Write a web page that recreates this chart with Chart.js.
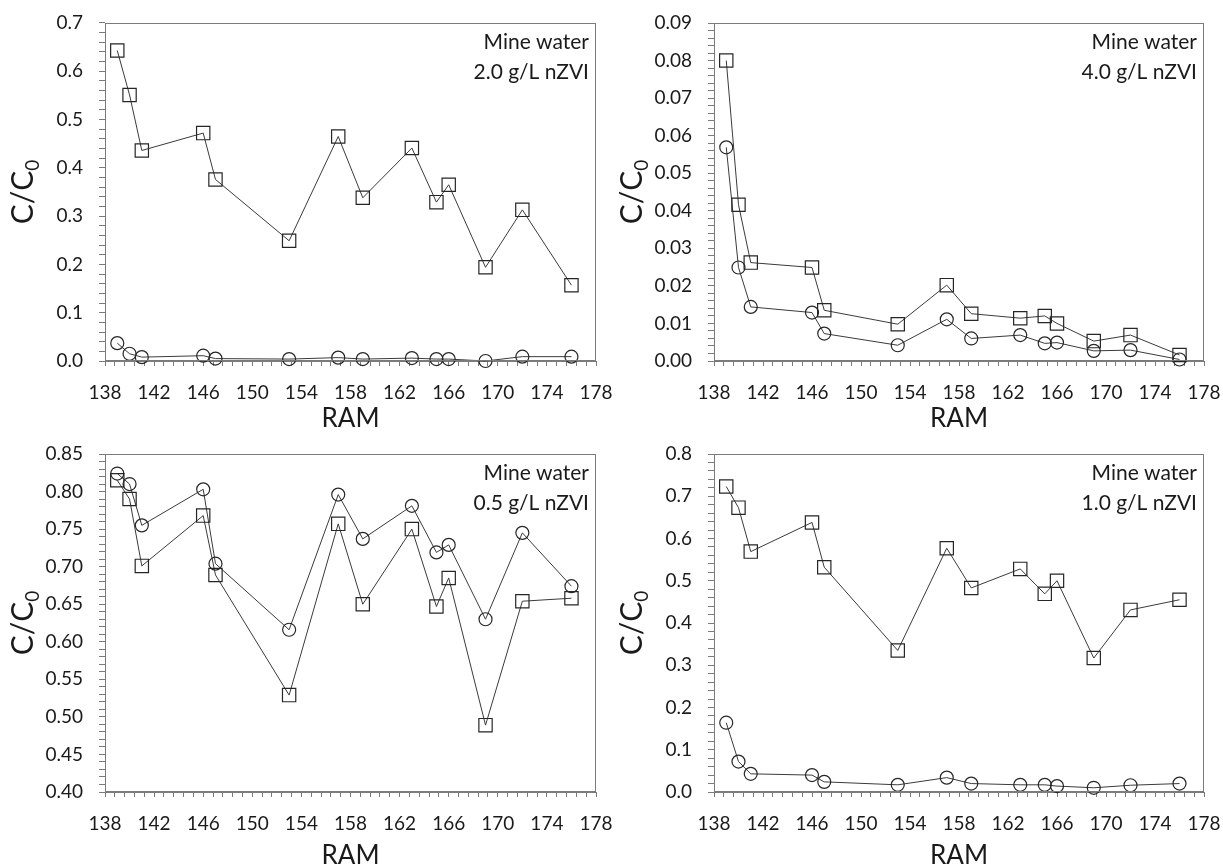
<!DOCTYPE html>
<html><head><meta charset="utf-8">
<script src="https://cdn.jsdelivr.net/npm/chart.js@4.4.1/dist/chart.umd.min.js"></script>
<style>
html,body{margin:0;padding:0;background:#fff;}
#wrap{position:relative;width:1223px;height:868px;overflow:hidden;background:#fff;}
canvas{position:absolute;left:0;top:0;}
</style></head><body>
<div id="wrap">
<canvas id="c1" width="1223" height="868"></canvas>
<canvas id="c2" width="1223" height="868"></canvas>
<canvas id="c3" width="1223" height="868"></canvas>
<canvas id="c4" width="1223" height="868"></canvas>
</div>
<script>
// ---- data ----
const ram = [139, 140, 141, 146, 147, 153, 157, 159, 163, 165, 166, 169, 172, 176];

// 2.0 g/L nZVI
const sq20 = [0.643, 0.551, 0.436, 0.472, 0.376, 0.249, 0.465, 0.338, 0.441, 0.329, 0.365, 0.194, 0.313, 0.157];
const ci20 = [0.037, 0.015, 0.008, 0.011, 0.005, 0.004, 0.007, 0.004, 0.006, 0.004, 0.004, 0.000, 0.009, 0.009];
// 4.0 g/L nZVI
const sq40 = [0.0800, 0.0416, 0.0262, 0.0249, 0.0135, 0.0098, 0.0202, 0.0126, 0.0114, 0.0120, 0.0100, 0.0053, 0.0069, 0.0016];
const ci40 = [0.0569, 0.0249, 0.0144, 0.0129, 0.0073, 0.0042, 0.0111, 0.0060, 0.0069, 0.0047, 0.0049, 0.0027, 0.0029, 0.0004];
// 0.5 g/L nZVI
const sq05 = [0.815, 0.790, 0.701, 0.768, 0.689, 0.529, 0.757, 0.650, 0.750, 0.647, 0.685, 0.489, 0.654, 0.658];
const ci05 = [0.824, 0.810, 0.755, 0.803, 0.704, 0.616, 0.796, 0.737, 0.781, 0.719, 0.729, 0.630, 0.745, 0.674];
// 1.0 g/L nZVI
const sq10 = [0.723, 0.673, 0.569, 0.638, 0.532, 0.335, 0.577, 0.483, 0.528, 0.469, 0.500, 0.317, 0.431, 0.455];
const ci10 = [0.164, 0.072, 0.043, 0.040, 0.024, 0.017, 0.034, 0.020, 0.017, 0.017, 0.014, 0.010, 0.016, 0.020];

const xTickLabels = ['138', '142', '146', '150', '154', '158', '162', '166', '170', '174', '178'];
const yLabels20 = ['0.0', '0.1', '0.2', '0.3', '0.4', '0.5', '0.6', '0.7'];
const yLabels40 = ['0.00', '0.01', '0.02', '0.03', '0.04', '0.05', '0.06', '0.07', '0.08', '0.09'];
const yLabels05 = ['0.40', '0.45', '0.50', '0.55', '0.60', '0.65', '0.70', '0.75', '0.80', '0.85'];
const yLabels10 = ['0.0', '0.1', '0.2', '0.3', '0.4', '0.5', '0.6', '0.7', '0.8'];

const noteTitle = 'Mine water';
const xTitle = 'RAM';

// ---- styling ----
const FONT = 'Lato, "Open Sans", sans-serif';
const AX = '#7b7b7b';
const INK = '#1a1a1a';
const LINE = '#3a3a3a';

function makePanel(id, sq, ci, yLabels, note, box) {
  const W = 1223, H = 868;
  const yMin = parseFloat(yLabels[0]);
  const yMax = parseFloat(yLabels[yLabels.length - 1]);
  const yMinor = (parseFloat(yLabels[1]) - yMin) / 5;
  const nY = (yLabels.length - 1) * 5;
  const xMin = parseFloat(xTickLabels[0]);
  const xMax = parseFloat(xTickLabels[xTickLabels.length - 1]);
  const xMinor = (parseFloat(xTickLabels[1]) - xMin) / 5;
  const nX = (xTickLabels.length - 1) * 5;

  const deco = {
    id: 'deco' + id,
    afterDraw(chart) {
      const ctx = chart.ctx;
      const a = chart.chartArea;
      ctx.save();
      // frame
      ctx.strokeStyle = AX;
      ctx.lineWidth = 1;
      ctx.strokeRect(Math.round(a.left) + 0.5, Math.round(a.top) + 0.5,
        Math.round(a.right - a.left) - 1, Math.round(a.bottom - a.top) - 1);
      // annotation
      ctx.fillStyle = INK;
      ctx.font = '21px ' + FONT;
      ctx.textAlign = 'right';
      ctx.textBaseline = 'middle';
      ctx.fillText(noteTitle, a.right - 7, a.top + 19);
      ctx.fillText(note, a.right - 7, a.top + 49);
      // y title C/C0 with subscript
      const cx = a.left - 83, cy = (a.top + a.bottom) / 2;
      ctx.translate(cx, cy);
      ctx.rotate(-Math.PI / 2);
      ctx.textAlign = 'left';
      ctx.textBaseline = 'alphabetic';
      ctx.font = '30px ' + FONT;
      const main = 'C/C';
      const w1 = ctx.measureText(main).width;
      ctx.font = '19px ' + FONT;
      const w2 = ctx.measureText('0').width;
      const x0 = -(w1 + w2) / 2;
      ctx.font = '30px ' + FONT;
      ctx.fillText(main, x0, 11);
      ctx.font = '19px ' + FONT;
      ctx.fillText('0', x0 + w1, 17);
      ctx.restore();
    }
  };

  const mk = (vals) => ram.map((x, i) => ({ x: x, y: vals[i] }));

  return new Chart(document.getElementById(id), {
    type: 'line',
    data: {
      datasets: [
        {
          label: 'square', data: mk(sq), borderColor: LINE, borderWidth: 1,
          pointStyle: 'rect', pointRadius: 9.4, pointHoverRadius: 9.4,
          pointBorderColor: '#262626', pointBorderWidth: 1.2,
          pointBackgroundColor: 'rgba(255,255,255,0)', tension: 0, clip: false, fill: false
        },
        {
          label: 'circle', data: mk(ci), borderColor: LINE, borderWidth: 1,
          pointStyle: 'circle', pointRadius: 6.5, pointHoverRadius: 6.5,
          pointBorderColor: '#262626', pointBorderWidth: 1.2,
          pointBackgroundColor: 'rgba(255,255,255,0)', tension: 0, clip: false, fill: false
        }
      ]
    },
    options: {
      responsive: false,
      animation: false,
      events: [],
      layout: { padding: { left: box.bl, right: W - box.r, top: box.t, bottom: H - box.bb } },
      plugins: { legend: { display: false }, tooltip: { enabled: false } },
      scales: {
        x: {
          type: 'linear', min: xMin, max: xMax,
          afterBuildTicks(scale) {
            const t = [];
            for (let k = 0; k <= nX; k++) t.push({ value: xMin + k * xMinor });
            scale.ticks = t;
          },
          afterFit(scale) { scale.height = box.bb - box.b; scale.paddingLeft = 0; scale.paddingRight = 0; },
          grid: { drawOnChartArea: false, drawTicks: true, tickLength: 5, color: AX, lineWidth: 1 },
          border: { display: true, color: AX, width: 1 },
          ticks: {
            autoSkip: false, maxRotation: 0, minRotation: 0, padding: 15, color: INK,
            font: { family: FONT, size: 19 },
            callback: (v, i) => (i % 5 === 0 ? xTickLabels[i / 5] : '')
          },
          title: {
            display: true, text: xTitle, color: INK,
            font: { family: FONT, size: 26, lineHeight: 1 },
            padding: { top: 0, bottom: box.tp }
          }
        },
        y: {
          type: 'linear', min: yMin, max: yMax,
          afterBuildTicks(scale) {
            const t = [];
            for (let k = 0; k <= nY; k++) t.push({ value: yMin + k * yMinor });
            scale.ticks = t;
          },
          afterFit(scale) { scale.width = box.l - box.bl; scale.paddingTop = 0; scale.paddingBottom = 0; },
          grid: { drawOnChartArea: false, drawTicks: true, tickLength: 6, color: AX, lineWidth: 1 },
          border: { display: true, color: AX, width: 1 },
          ticks: {
            autoSkip: false, padding: 16, color: INK,
            font: { family: FONT, size: 19 },
            callback: (v, i) => (i % 5 === 0 ? yLabels[i / 5] : '')
          },
          title: { display: false }
        }
      }
    },
    plugins: [deco]
  });
}

makePanel('c1', sq20, ci20, yLabels20, '2.0 g/L nZVI', { bl: 0, l: 105, r: 596, t: 23, b: 361, bb: 434, tp: 2 });
makePanel('c2', sq40, ci40, yLabels40, '4.0 g/L nZVI', { bl: 611, l: 714, r: 1204, t: 23, b: 361, bb: 434, tp: 2 });
makePanel('c3', sq05, ci05, yLabels05, '0.5 g/L nZVI', { bl: 0, l: 105, r: 596, t: 454, b: 792, bb: 868, tp: -1 });
makePanel('c4', sq10, ci10, yLabels10, '1.0 g/L nZVI', { bl: 611, l: 714, r: 1204, t: 454, b: 792, bb: 868, tp: -1 });
</script>
</body></html>
